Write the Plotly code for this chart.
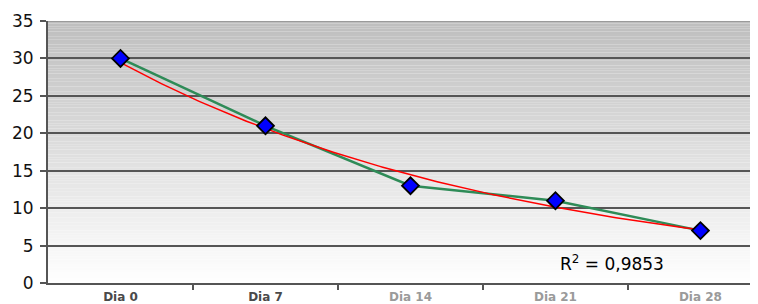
import numpy as np
import plotly.graph_objects as go

categories = ["Dia 0", "Dia 7", "Dia 14", "Dia 21", "Dia 28"]
values = [30, 21, 13, 11, 7]
label_colors = ["#4a4a4a", "#4a4a4a", "#9a9a9a", "#9a9a9a", "#9a9a9a"]
y_ticks = [0, 5, 10, 15, 20, 25, 30, 35]

x_idx = np.arange(len(categories))
# Exponential trendline (least squares on log values), as in the original
b, ln_a = np.polyfit(x_idx, np.log(values), 1)
xf = np.linspace(0, len(categories) - 1, 200)
yf = np.exp(ln_a + b * xf)
pred = ln_a + b * x_idx
ly = np.log(values)
r2 = 1 - np.sum((ly - pred) ** 2) / np.sum((ly - ly.mean()) ** 2)

fig = go.Figure()
fig.add_trace(go.Scatter(x=x_idx, y=values, mode="lines",
                         line=dict(color="#2e8b57", width=2.5), hoverinfo="skip"))
fig.add_trace(go.Scatter(x=xf, y=yf, mode="lines",
                         line=dict(color="#ff0000", width=1.5), hoverinfo="skip"))
fig.add_trace(go.Scatter(x=x_idx, y=values, mode="markers",
                         marker=dict(symbol="diamond", size=13, color="#0000ff",
                                     line=dict(color="#000000", width=1.8))))

# gradient background
n = 100
top, bot = 35, 0
shapes = []
for i in range(n):
    y0 = bot + (top - bot) * i / n
    y1 = bot + (top - bot) * (i + 1) / n
    t = (i + 0.5) / n
    c = int(round(255 - t * (255 - 190)))
    shapes.append(dict(type="rect", xref="paper", yref="y", x0=0, x1=1, y0=y0, y1=y1,
                       fillcolor=f"rgb({c},{c},{c})", line=dict(width=0), layer="below"))
shapes.append(dict(type="line", xref="paper", yref="y", x0=0, x1=1, y0=35, y1=35,
                   line=dict(color="#9a9a9a", width=2), layer="above"))

# page body has an 8px margin: size figure so that it ends at the window edge
fig.update_layout(
    width=750, height=296,
    margin=dict(l=40, r=0, t=13, b=21),
    paper_bgcolor="white", plot_bgcolor="white",
    showlegend=False,
    shapes=shapes,
    font=dict(family="DejaVu Sans", color="#000"),
)
fig.update_xaxes(
    range=[-0.5, 4.397],
    tickvals=list(x_idx),
    ticktext=[f"<span style='color:{c}'><b>{t}</b></span>" for t, c in zip(categories, label_colors)],
    tickfont=dict(family="DejaVu Sans", size=12),
    ticks="", showgrid=False, zeroline=False,
    showline=True, linecolor="#555", linewidth=2,
    minor=dict(tickvals=[0.5, 1.5, 2.5, 3.5], ticks="outside", ticklen=5,
               tickcolor="#555", tickwidth=1.5, showgrid=False),
    ticklabelstandoff=2,
)
fig.update_yaxes(
    range=[0, 35], tickvals=y_ticks,
    tickfont=dict(family="DejaVu Sans", size=17, color="#111"),
    ticks="outside", ticklen=6, tickcolor="#555", tickwidth=1.5,
    showgrid=True, gridcolor="#555555", gridwidth=1.6,
    zeroline=False, showline=True, linecolor="#555", linewidth=2,
    ticklabelstandoff=3,
)
fig.add_annotation(x=3.39, y=2.7, xref="x", yref="y",
                   text=f"R<sup>2</sup> = {r2:.4f}".replace(".", ","),
                   showarrow=False, font=dict(family="DejaVu Sans", size=17, color="#000"))

fig.write_html("out.html")
